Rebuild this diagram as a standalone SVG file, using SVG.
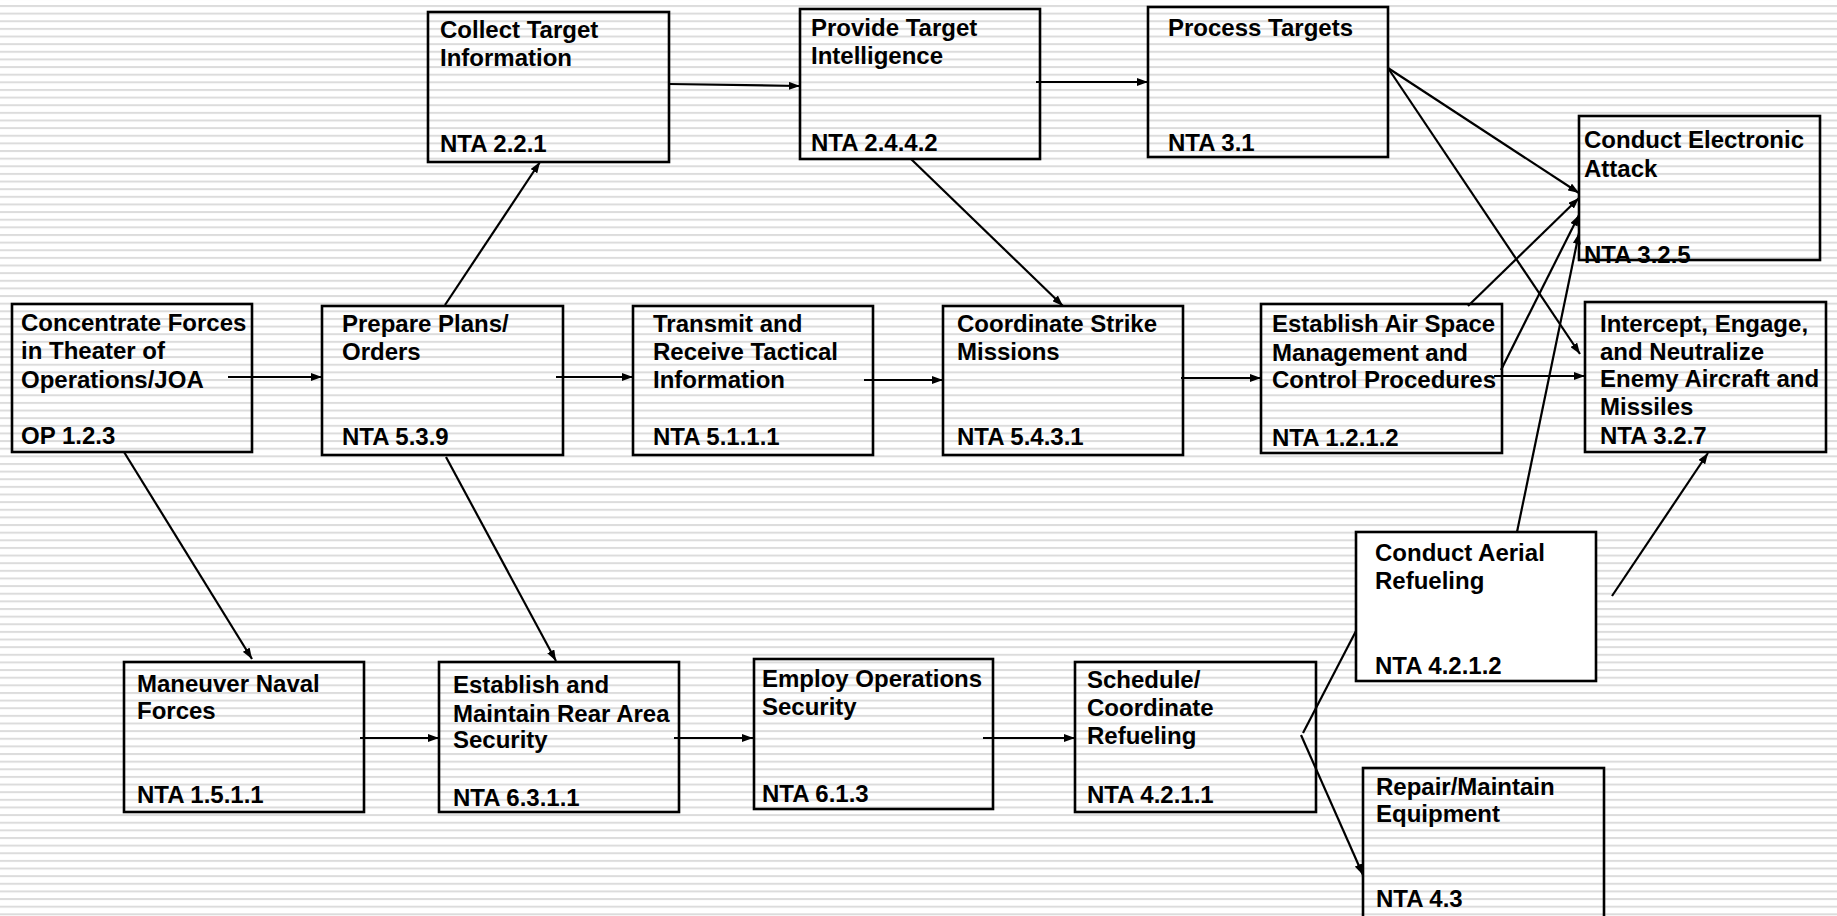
<svg xmlns="http://www.w3.org/2000/svg" width="1837" height="916" viewBox="0 0 1837 916">
  <defs>
    <!-- ruled background: thin light-grey horizontal lines -->
    <pattern id="ruled" patternUnits="userSpaceOnUse" x="0" y="5" width="40" height="7.633">
      <rect x="0" y="0" width="40" height="2" fill="#dcdcdc"/>
    </pattern>
    <marker id="arrow" viewBox="0 0 11 8" refX="11" refY="4" markerWidth="11" markerHeight="8" markerUnits="userSpaceOnUse" orient="auto">
      <path d="M0,0 L11,4 L0,8 z" fill="#000"/>
    </marker>
  </defs>
  <style>
    .box { fill: none; stroke: #000; stroke-width: 2.6; }
    .box.solid { fill: #fff; }
    .lbl { font-family: "Liberation Sans", Arial, sans-serif; font-weight: bold; font-size: 24px; fill: #000; }
    .cn line { stroke: #000; stroke-width: 2.2; }
    .cn .a { marker-end: url(#arrow); }
  </style>

  <rect x="0" y="0" width="1837" height="916" fill="#fff"/>
  <rect x="0" y="0" width="1837" height="916" fill="url(#ruled)"/>

  <!-- connectors -->
  <g id="connectors" class="cn">
    <line class="a" x1="228" y1="377" x2="322" y2="377"/>
    <line class="a" x1="556" y1="377" x2="633" y2="377"/>
    <line class="a" x1="864" y1="380" x2="943" y2="380"/>
    <line class="a" x1="1181" y1="378" x2="1261" y2="378"/>
    <line class="a" x1="1494" y1="376" x2="1585" y2="376"/>
    <line class="a" x1="445" y1="305" x2="540" y2="162"/>
    <line class="a" x1="669" y1="84" x2="800" y2="86"/>
    <line class="a" x1="1036" y1="82" x2="1148" y2="82"/>
    <line class="a" x1="911" y1="159" x2="1063" y2="306"/>
    <line class="a" x1="1388" y1="68" x2="1579" y2="193"/>
    <line class="a" x1="1388" y1="68" x2="1580" y2="354"/>
    <line class="a" x1="1468" y1="306" x2="1579" y2="198"/>
    <line class="a" x1="1501" y1="370" x2="1579" y2="215"/>
    <line class="a" x1="1517" y1="532" x2="1579" y2="233"/>
    <line class="a" x1="1612" y1="596" x2="1708" y2="453"/>
    <line class="a" x1="124" y1="452" x2="252" y2="659"/>
    <line class="a" x1="446" y1="457" x2="556" y2="661"/>
    <line class="a" x1="360" y1="738" x2="439" y2="738"/>
    <line class="a" x1="674" y1="738" x2="753" y2="738"/>
    <line class="a" x1="983" y1="738" x2="1075" y2="738"/>
    <line x1="1303" y1="733" x2="1356" y2="631"/>
    <line class="a" x1="1301" y1="735" x2="1363" y2="875"/>
  </g>

  <g id="n-concentrate">
    <rect class="box" x="12" y="304" width="240" height="148"/>
    <text class="lbl" x="21" y="331">Concentrate Forces</text>
    <text class="lbl" x="21" y="359">in Theater of</text>
    <text class="lbl" x="21" y="388">Operations/JOA</text>
    <text class="lbl" x="21" y="444">OP 1.2.3</text>
  </g>

  <g id="n-prepare">
    <rect class="box" x="322" y="306" width="241" height="149"/>
    <text class="lbl" x="342" y="332">Prepare Plans/</text>
    <text class="lbl" x="342" y="360">Orders</text>
    <text class="lbl" x="342" y="445">NTA 5.3.9</text>
  </g>

  <g id="n-transmit">
    <rect class="box" x="633" y="306" width="240" height="149"/>
    <text class="lbl" x="653" y="332">Transmit and</text>
    <text class="lbl" x="653" y="360">Receive Tactical</text>
    <text class="lbl" x="653" y="388">Information</text>
    <text class="lbl" x="653" y="445">NTA 5.1.1.1</text>
  </g>

  <g id="n-coordinate">
    <rect class="box" x="943" y="306" width="240" height="149"/>
    <text class="lbl" x="957" y="332">Coordinate Strike</text>
    <text class="lbl" x="957" y="360">Missions</text>
    <text class="lbl" x="957" y="445">NTA 5.4.3.1</text>
  </g>

  <g id="n-airspace">
    <rect class="box" x="1261" y="304" width="241" height="149"/>
    <text class="lbl" x="1272" y="332">Establish Air Space</text>
    <text class="lbl" x="1272" y="361">Management and</text>
    <text class="lbl" x="1272" y="388">Control Procedures</text>
    <text class="lbl" x="1272" y="446">NTA 1.2.1.2</text>
  </g>

  <g id="n-intercept">
    <rect class="box" x="1585" y="302" width="241" height="150"/>
    <text class="lbl" x="1600" y="332">Intercept, Engage,</text>
    <text class="lbl" x="1600" y="360">and Neutralize</text>
    <text class="lbl" x="1600" y="387">Enemy Aircraft and</text>
    <text class="lbl" x="1600" y="415">Missiles</text>
    <text class="lbl" x="1600" y="444">NTA 3.2.7</text>
  </g>

  <g id="n-collect">
    <rect class="box" x="428" y="12" width="241" height="150"/>
    <text class="lbl" x="440" y="38">Collect Target</text>
    <text class="lbl" x="440" y="66">Information</text>
    <text class="lbl" x="440" y="152">NTA 2.2.1</text>
  </g>

  <g id="n-provide">
    <rect class="box" x="800" y="9" width="240" height="150"/>
    <text class="lbl" x="811" y="36">Provide Target</text>
    <text class="lbl" x="811" y="64">Intelligence</text>
    <text class="lbl" x="811" y="151">NTA 2.4.4.2</text>
  </g>

  <g id="n-process">
    <rect class="box" x="1148" y="7" width="240" height="150"/>
    <text class="lbl" x="1168" y="36">Process Targets</text>
    <text class="lbl" x="1168" y="151">NTA 3.1</text>
  </g>

  <g id="n-electronic">
    <rect class="box" x="1579" y="116" width="241" height="144"/>
    <text class="lbl" x="1584" y="148">Conduct Electronic</text>
    <text class="lbl" x="1584" y="177">Attack</text>
    <text class="lbl" x="1584" y="263">NTA 3.2.5</text>
  </g>

  <g id="n-aerial">
    <rect class="box solid" x="1356" y="532" width="240" height="149"/>
    <text class="lbl" x="1375" y="561">Conduct Aerial</text>
    <text class="lbl" x="1375" y="589">Refueling</text>
    <text class="lbl" x="1375" y="674">NTA 4.2.1.2</text>
  </g>

  <g id="n-maneuver">
    <rect class="box" x="124" y="662" width="240" height="150"/>
    <text class="lbl" x="137" y="692">Maneuver Naval</text>
    <text class="lbl" x="137" y="719">Forces</text>
    <text class="lbl" x="137" y="803">NTA 1.5.1.1</text>
  </g>

  <g id="n-rear">
    <rect class="box" x="439" y="662" width="240" height="150"/>
    <text class="lbl" x="453" y="693">Establish and</text>
    <text class="lbl" x="453" y="722">Maintain Rear Area</text>
    <text class="lbl" x="453" y="748">Security</text>
    <text class="lbl" x="453" y="806">NTA 6.3.1.1</text>
  </g>

  <g id="n-employ">
    <rect class="box" x="754" y="659" width="239" height="150"/>
    <text class="lbl" x="762" y="687">Employ Operations</text>
    <text class="lbl" x="762" y="715">Security</text>
    <text class="lbl" x="762" y="802">NTA 6.1.3</text>
  </g>

  <g id="n-schedule">
    <rect class="box" x="1075" y="662" width="241" height="150"/>
    <text class="lbl" x="1087" y="688">Schedule/</text>
    <text class="lbl" x="1087" y="716">Coordinate</text>
    <text class="lbl" x="1087" y="744">Refueling</text>
    <text class="lbl" x="1087" y="803">NTA 4.2.1.1</text>
  </g>

  <g id="n-repair">
    <rect class="box" x="1363" y="768" width="241" height="160"/>
    <text class="lbl" x="1376" y="795">Repair/Maintain</text>
    <text class="lbl" x="1376" y="822">Equipment</text>
    <text class="lbl" x="1376" y="907">NTA 4.3</text>
  </g>
</svg>
